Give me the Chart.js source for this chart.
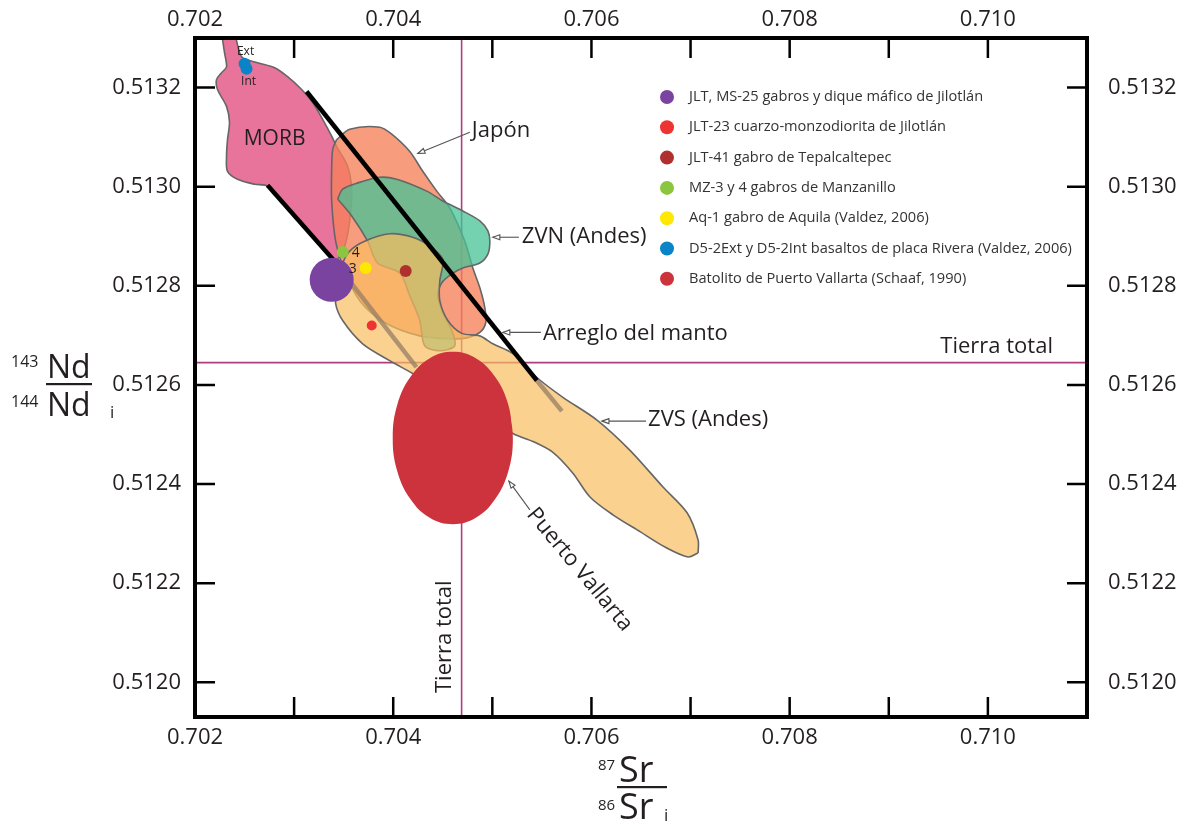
<!DOCTYPE html>
<html><head><meta charset="utf-8">
<script src="https://cdn.jsdelivr.net/npm/chart.js@4.4.0/dist/chart.umd.min.js"></script>
<style>html,body{margin:0;padding:0;background:#fff}#wrap{width:1192px;height:824px;position:relative}</style>
</head><body><div id="wrap"><canvas id="c" width="1192" height="824"></canvas></div>
<script>
// ---------- axes ----------
const xMin = 0.702, xMax = 0.711, yMin = 0.51193, yMax = 0.51330;
const xTickValues = [0.702,0.703,0.704,0.705,0.706,0.707,0.708,0.709,0.710,0.711];
const xTickLabels = ['0.702','','0.704','','0.706','','0.708','','0.710',''];
const yTickValues = [0.5120,0.5122,0.5124,0.5126,0.5128,0.5130,0.5132];
const yTickLabels = ['0.5120','0.5122','0.5124','0.5126','0.5128','0.5130','0.5132'];

// ---------- reference lines ----------
const tierraSr = 0.70469;
const tierraNd = 0.512645;
const mantleUpper = [[0.703126,0.513192],[0.705449,0.512609]];
const mantleUpperTail = [[0.705449,0.512609],[0.705702,0.512547]];
const mantleLower = [[0.702732,0.513003],[0.703389,0.512854]];
const mantleLowerTail = [[0.703389,0.512854],[0.704234,0.512636]];

// ---------- fields (outlines) ----------
const morbOutline = [[0.702268,0.51331],[0.702389,0.51331],[0.702470,0.513262],[0.702631,0.513250],[0.702803,0.513240],[0.702934,0.513222],[0.703076,0.513196],[0.703187,0.513170],[0.703288,0.513136],[0.703379,0.513102],[0.703429,0.513081],[0.703540,0.513041],[0.703581,0.512991],[0.703561,0.512931],[0.703510,0.512880],[0.703419,0.512854],[0.703056,0.512931],[0.702732,0.513001],[0.702601,0.513005],[0.702429,0.513015],[0.702328,0.513031],[0.702318,0.513061],[0.702328,0.513095],[0.702348,0.513130],[0.702318,0.513162],[0.702227,0.513196],[0.702217,0.513216],[0.702268,0.513230],[0.702318,0.513242],[0.702298,0.513270],[0.702268,0.51331]];
const japonOutline = [[0.703429,0.513095],[0.703561,0.513116],[0.703864,0.513120],[0.703985,0.513106],[0.704167,0.513071],[0.704298,0.513031],[0.704439,0.512991],[0.704571,0.512957],[0.704722,0.512890],[0.704803,0.512836],[0.704874,0.512796],[0.704924,0.512756],[0.704934,0.512726],[0.704874,0.512706],[0.704742,0.512695],[0.704591,0.512693],[0.704268,0.512699],[0.703914,0.512726],[0.703662,0.512770],[0.703510,0.512830],[0.703419,0.512890],[0.703379,0.512971],[0.703379,0.513037],[0.703389,0.513075],[0.703429,0.513095]];
const zvnOutline = [[0.703439,0.512975],[0.703490,0.512995],[0.703631,0.513007],[0.703864,0.513019],[0.704035,0.513015],[0.704338,0.512991],[0.704500,0.512971],[0.704702,0.512951],[0.704874,0.512931],[0.704955,0.512911],[0.704975,0.512890],[0.704955,0.512864],[0.704874,0.512846],[0.704702,0.512836],[0.704591,0.512824],[0.704490,0.512806],[0.704450,0.512780],[0.704500,0.512746],[0.704591,0.512710],[0.704621,0.512679],[0.704470,0.512669],[0.704318,0.512679],[0.704268,0.512730],[0.704167,0.512780],[0.704066,0.512826],[0.703843,0.512846],[0.703742,0.512890],[0.703581,0.512941],[0.703439,0.512975]];
const zvsOutline = [[0.707076,0.512261],[0.706975,0.512253],[0.706742,0.512273],[0.706490,0.512304],[0.706217,0.512338],[0.705985,0.512374],[0.705813,0.512422],[0.705611,0.512464],[0.705409,0.512486],[0.705207,0.512502],[0.704773,0.512559],[0.704470,0.512589],[0.704197,0.512623],[0.703965,0.512649],[0.703692,0.512683],[0.703490,0.512730],[0.703419,0.512764],[0.703439,0.512790],[0.703480,0.512840],[0.703561,0.512870],[0.703712,0.512890],[0.703965,0.512905],[0.704197,0.512898],[0.704369,0.512880],[0.704500,0.512854],[0.704470,0.512810],[0.704470,0.512770],[0.704551,0.512730],[0.704692,0.512704],[0.704874,0.512699],[0.705005,0.512683],[0.705207,0.512663],[0.705449,0.512615],[0.705712,0.512575],[0.706056,0.512529],[0.706389,0.512468],[0.706722,0.512394],[0.706965,0.512342],[0.707076,0.512287],[0.707076,0.512261]];
const puertoVallartaOutline = [[0.705207,0.512493],[0.705161,0.512560],[0.705029,0.512616],[0.704833,0.512654],[0.704601,0.512667],[0.704369,0.512654],[0.704173,0.512616],[0.704041,0.512560],[0.703995,0.512493],[0.704041,0.512426],[0.704173,0.512370],[0.704369,0.512332],[0.704601,0.512319],[0.704833,0.512332],[0.705029,0.512370],[0.705161,0.512426],[0.705207,0.512493],[0.705161,0.512560]];

// ---------- samples ----------
const jltMs25 = [[0.703379,0.512812]];
const jlt23 = [[0.703783,0.512720]];
const jlt41 = [[0.704126,0.512830]];
const mz34 = [[0.703490,0.512868],[0.703490,0.512836]];
const aq1 = [[0.703722,0.512836]];
const d52 = [[0.702500,0.513248],[0.702520,0.513238]];

// ---------- annotation texts ----------
const fieldLabels = [
  {t:'MORB', x:0.702803, y:0.513097, size:21, align:'center'},
  {t:'Japón', x:0.704793, y:0.513112, size:22, align:'left'},
  {t:'ZVN (Andes)', x:0.705298, y:0.512900, size:22, align:'left'},
  {t:'Arreglo del manto', x:0.705510, y:0.512703, size:22, align:'left'},
  {t:'ZVS (Andes)', x:0.706571, y:0.512529, size:22, align:'left'},
  {t:'Tierra total', x:0.709520, y:0.512677, size:22, align:'left'},
  {t:'Tierra total', x:0.704520, y:0.512092, size:22, align:'center', rot:-Math.PI/2},
  {t:'Puerto Vallarta', x:0.705389, y:0.512346, size:22, align:'left', rot:0.88},
  {t:'Ext', x:0.702510, y:0.513272, size:12, align:'center'},
  {t:'Int', x:0.702540, y:0.513212, size:12, align:'center'},
  {t:'4', x:0.703621, y:0.512866, size:14, align:'center'},
  {t:'3', x:0.703591, y:0.512834, size:14, align:'center'}
];
const leaders = [
  [[0.704773,0.513110],[0.704248,0.513067]],
  [[0.705268,0.512898],[0.705005,0.512898]],
  [[0.705490,0.512706],[0.705106,0.512706]],
  [[0.706551,0.512527],[0.706106,0.512527]],
  [[0.705379,0.512348],[0.705167,0.512406]]
];

const pts = a => a.map(p => ({x:p[0], y:p[1]}));
const FONT = "'Open Sans', sans-serif";

function shape(label, data, bg, order, border) {
  return {label, data: pts(data), type:'line', fill:'shape', backgroundColor:bg,
    borderColor: border ? '#666666' : 'rgba(0,0,0,0)', borderWidth: border ? 1.6 : 0,
    pointRadius:0, tension:0.3, order};
}
function seg(label, data, color, width, order) {
  return {label, data: pts(data), type:'line', fill:false, borderColor:color, borderWidth:width,
    pointRadius:0, tension:0, order, borderCapStyle:'butt'};
}
function marker(label, data, color, r, order) {
  return {label, data: pts(data), type:'line', showLine:false, backgroundColor:color, borderColor:color,
    borderWidth:0, pointRadius:r, pointHoverRadius:r, order, legendColor:color, inLegend:true};
}

const datasets = [
  marker('JLT, MS-25 gabros y dique máfico de Jilotlán', jltMs25, '#7A43A0', 22, 1),
  marker('JLT-23 cuarzo-monzodiorita de Jilotlán', jlt23, '#EE3432', 5, 1),
  marker('JLT-41 gabro de Tepalcaltepec', jlt41, '#B0302F', 6, 1),
  marker('MZ-3 y 4 gabros de Manzanillo', mz34, '#8CC640', 6, 1),
  marker('Aq-1 gabro de Aquila (Valdez, 2006)', aq1, '#FFE800', 6, 1),
  marker('D5-2Ext y D5-2Int basaltos de placa Rivera (Valdez, 2006)', d52, '#0A84C6', 6, 1),
  Object.assign(shape('Batolito de Puerto Vallarta (Schaaf, 1990)', puertoVallartaOutline, '#CC333C', 3, false), {tension:0.4, inLegend:true, legendColor:'#CC333C'}),
  seg('Arreglo del manto', mantleUpper, '#000000', 4.5, 4),
  seg('Arreglo del manto (inferior)', mantleLower, '#000000', 4.5, 4),
  seg('Arreglo del manto (prolongación)', mantleUpperTail, 'rgba(150,125,100,0.75)', 4.5, 5),
  seg('Arreglo del manto (prolongación inferior)', mantleLowerTail, 'rgba(150,125,100,0.75)', 4.5, 5),
  shape('ZVS (Andes)', zvsOutline, 'rgba(250,190,95,0.7)', 6, true),
  shape('ZVN (Andes)', zvnOutline, 'rgba(70,195,150,0.75)', 7, true),
  shape('Japón', japonOutline, 'rgba(246,128,90,0.78)', 8, true),
  shape('MORB', morbOutline, '#E8749C', 9, true),
  seg('Tierra total Sr', [[tierraSr,yMin],[tierraSr,yMax]], '#B03D7E', 1.6, 10),
  seg('Tierra total Nd', [[xMin,tierraNd],[xMax,tierraNd]], '#B03D7E', 1.6, 10)
];

const tickFont = {family: FONT, size: 22};
function xScale(position, h, pad) {
  return {type:'linear', position, min:xMin, max:xMax,
    afterBuildTicks: s => { s.ticks = xTickValues.map(v => ({value:v})); },
    afterFit: s => { s.height = h; },
    ticks:{autoSkip:false, maxRotation:0, padding:pad, color:'#231f20', font:tickFont,
      callback:(v,i) => xTickLabels[i]},
    grid:{display:false, drawTicks:false}, border:{display:false}};
}
function yScale(position, w, pad) {
  return {type:'linear', position, min:yMin, max:yMax,
    afterBuildTicks: s => { s.ticks = yTickValues.map(v => ({value:v})); },
    afterFit: s => { s.width = w; },
    ticks:{autoSkip:false, padding:pad, color:'#231f20', font:tickFont,
      callback:(v,i) => yTickLabels[i]},
    grid:{display:false, drawTicks:false}, border:{display:false}};
}

const framePlugin = {
  id:'frame',
  afterDatasetsDraw(chart) {
    const {ctx, chartArea:a, scales} = chart;
    ctx.save();
    ctx.strokeStyle = '#000'; ctx.lineWidth = 2.5;
    const L = 20;
    ctx.beginPath();
    scales.x.ticks.forEach(t => { const p = scales.x.getPixelForValue(t.value); ctx.moveTo(p, a.bottom); ctx.lineTo(p, a.bottom - L); });
    scales.x2.ticks.forEach(t => { const p = scales.x2.getPixelForValue(t.value); ctx.moveTo(p, a.top); ctx.lineTo(p, a.top + L); });
    scales.y.ticks.forEach(t => { const p = scales.y.getPixelForValue(t.value); ctx.moveTo(a.left, p); ctx.lineTo(a.left + L, p); });
    scales.y2.ticks.forEach(t => { const p = scales.y2.getPixelForValue(t.value); ctx.moveTo(a.right, p); ctx.lineTo(a.right - L, p); });
    ctx.stroke();
    ctx.lineWidth = 4;
    ctx.strokeRect(a.left, a.top, a.right - a.left, a.bottom - a.top);
    ctx.restore();
  }
};

const annotPlugin = {
  id:'annot',
  afterDatasetsDraw(chart) {
    const {ctx, scales} = chart;
    const X = v => scales.x.getPixelForValue(v), Y = v => scales.y.getPixelForValue(v);
    ctx.save();
    ctx.strokeStyle = '#555'; ctx.lineWidth = 1.1;
    leaders.forEach(l => {
      const x1 = X(l[0][0]), y1 = Y(l[0][1]), x2 = X(l[1][0]), y2 = Y(l[1][1]);
      ctx.beginPath(); ctx.moveTo(x1, y1); ctx.lineTo(x2, y2); ctx.stroke();
      const ang = Math.atan2(y2 - y1, x2 - x1);
      ctx.beginPath();
      ctx.moveTo(x2, y2);
      ctx.lineTo(x2 - 7*Math.cos(ang) + 2.5*Math.sin(ang), y2 - 7*Math.sin(ang) - 2.5*Math.cos(ang));
      ctx.lineTo(x2 - 7*Math.cos(ang) - 2.5*Math.sin(ang), y2 - 7*Math.sin(ang) + 2.5*Math.cos(ang));
      ctx.closePath(); ctx.fillStyle = '#fff'; ctx.fill(); ctx.stroke();
    });
    ctx.fillStyle = '#231f20';
    ctx.textBaseline = 'middle';
    fieldLabels.forEach(f => {
      ctx.save();
      ctx.font = f.size + 'px ' + FONT;
      ctx.textAlign = f.align;
      ctx.translate(X(f.x), Y(f.y));
      if (f.rot) ctx.rotate(f.rot);
      ctx.fillText(f.t, 0, 0);
      ctx.restore();
    });
    // legend
    let i = 0;
    chart.data.datasets.forEach(ds => {
      if (!ds.inLegend) return;
      const cy = 97 + i * 30.3;
      ctx.beginPath(); ctx.arc(667, cy, 7, 0, Math.PI*2); ctx.fillStyle = ds.legendColor; ctx.fill();
      ctx.fillStyle = '#333'; ctx.font = '14.6px ' + FONT; ctx.textAlign = 'left';
      ctx.fillText(ds.label, 689, cy);
      i++;
    });
    // axis titles (fraction notation)
    ctx.fillStyle = '#231f20';
    ctx.textAlign = 'left'; ctx.textBaseline = 'alphabetic';
    ctx.font = '16px ' + FONT; ctx.fillText('143', 11, 367);
    ctx.font = '32px ' + FONT; ctx.fillText('Nd', 47, 378);
    ctx.font = '16px ' + FONT; ctx.fillText('144', 11, 407);
    ctx.font = '32px ' + FONT; ctx.fillText('Nd', 47, 416);
    ctx.font = '17px ' + FONT; ctx.fillText('i', 110, 418);
    ctx.fillRect(46, 383, 46, 2.2);
    ctx.font = '15px ' + FONT; ctx.fillText('87', 598, 770);
    ctx.font = '36px ' + FONT; ctx.fillText('Sr', 619, 782);
    ctx.font = '15px ' + FONT; ctx.fillText('86', 598, 810);
    ctx.font = '36px ' + FONT; ctx.fillText('Sr', 619, 819);
    ctx.font = '17px ' + FONT; ctx.fillText('i', 664, 821);
    ctx.fillRect(617, 786, 50, 2.2);
    ctx.restore();
  }
};

Chart.defaults.font.family = FONT;
new Chart(document.getElementById('c'), {
  type:'line',
  data:{datasets},
  options:{
    responsive:false, devicePixelRatio:1, animation:false,
    layout:{padding:0},
    plugins:{legend:{display:false}, tooltip:{enabled:false}},
    events:[],
    scales:{
      x: xScale('bottom', 107, 8),
      x2: xScale('top', 38, 5),
      y: yScale('left', 195, 14),
      y2: yScale('right', 105, 21)
    }
  },
  plugins:[framePlugin, annotPlugin]
});
</script>
</body></html>
